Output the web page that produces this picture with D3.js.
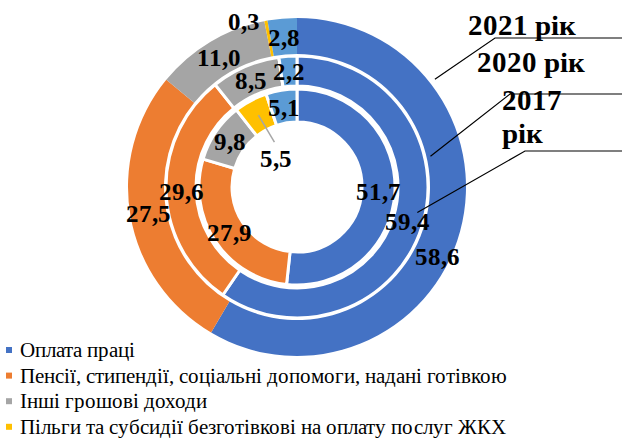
<!DOCTYPE html>
<html>
<head>
<meta charset="utf-8">
<script src="https://cdn.jsdelivr.net/npm/d3@7"></script>
<style>
  @font-face { font-family: "ChartSerif"; font-weight: normal; src: local("Liberation Serif"), local("LiberationSerif"), local("Times New Roman"); }
  @font-face { font-family: "ChartSerif"; font-weight: bold; src: local("Liberation Serif Bold"), local("LiberationSerif-Bold"), local("Times New Roman Bold"); }
</style>
</head>
<body style="margin:0">
<svg class="chart" width="622" height="441"></svg>
<script>
//* data
const categories = [
	"Оплата праці",
	"Пенсії, стипендії, соціальні допомоги, надані готівкою",
	"Інші грошові доходи",
	"Пільги та субсидії безготівкові на оплату послуг ЖКХ",
	"Інше"
];
const years = ["2017 рік", "2020 рік", "2021 рік"];
const values2017 = [51.7, 27.9, 9.8, 5.5, 5.1];
const values2020 = [59.4, 29.6, 8.5, 0, 2.2];
const values2021 = [58.6, 27.5, 11.0, 0.3, 2.8];
const colors = ["#4472C4", "#ED7D31", "#A5A5A5", "#FFC000", "#5B9BD5"];
const legendCount = 4;

const FONT = '"ChartSerif", "Liberation Serif", "Times New Roman", serif';
const svg = d3.select("svg");
const cx = 297, cy = 187;
const texts = [];

//* rings, inner to outer
const rings = [
	{ year: years[0], values: values2017, r0: 65, r1: 98, stroke: 3 },
	{ year: years[1], values: values2020, r0: 101, r1: 131, stroke: 3 },
	{ year: years[2], values: values2021, r0: 133, r1: 169, stroke: 0 }
];

// a few labels were moved by hand in the original
const labelNudge = {
	"2021 рік|0": [-5, 29],
	"2021 рік|3": [-25, -18],
	"2017 рік|3": [18, 43]
};
const leaderFor = { "2017 рік|3": true };

const pie = d3.pie().sort(null).value((d) => d);
const fmt = (v) => d3.format(".1f")(v).replace(".", ",");

const g = svg.append("g").attr("transform", `translate(${cx}, ${cy})`);

rings.forEach((ring) => {
	const arc = d3.arc().innerRadius(ring.r0).outerRadius(ring.r1);
	const arcs = pie(ring.values);

	g.append("g")
		.selectAll("path")
		.data(arcs)
		.enter()
		.append("path")
		.attr("d", arc)
		.attr("fill", (_, i) => colors[i])
		.attr("stroke", ring.stroke ? "#fff" : "none")
		.attr("stroke-width", ring.stroke);

	arcs.forEach((a, i) => {
		if (a.data === 0) return;
		const key = ring.year + "|" + i;
		const [x0, y0] = arc.centroid(a);
		const n = labelNudge[key] || [0, 0];
		const x = cx + x0 + n[0], y = cy + y0 + n[1];
		if (leaderFor[key]) {
			svg.append("line")
				.attr("x1", cx + x0).attr("y1", cy + y0)
				.attr("x2", x - 2).attr("y2", y - 16)
				.attr("stroke", "#a6a6a6")
				.attr("stroke-width", 1.5);
		}
		texts.push({ x, y: y + 9, t: fmt(a.data), size: 25, bold: true, anchor: "middle" });
	});
});

//* series name callouts
const callouts = [
	{ angle: 52, r: 175, elbow: [495, 38], lines: ["2021 рік"], tx: 468, ty: 35 },
	{ angle: 77, r: 137, elbow: [510, 94], lines: ["2020 рік"], tx: 477, ty: 72 },
	{ angle: 102, r: 123, elbow: [525, 151], lines: ["2017", "рік"], tx: 502, ty: 110 }
];

callouts.forEach((c) => {
	const a = (c.angle * Math.PI) / 180;
	const px = cx + c.r * Math.sin(a), py = cy - c.r * Math.cos(a);
	svg.append("path")
		.attr("d", `M${px},${py}L${c.elbow[0]},${c.elbow[1]}H640`)
		.attr("fill", "none")
		.attr("stroke", "#000")
		.attr("stroke-width", 1.2);
	c.lines.forEach((l, i) =>
		texts.push({ x: c.tx, y: c.ty + i * 33, t: l, size: 29, bold: true, anchor: "start" })
	);
});

//* legend
categories.slice(0, legendCount).forEach((d, i) => {
	const y = 350 + i * 25.6;
	svg.append("rect")
		.attr("x", 6)
		.attr("y", y - 3)
		.attr("width", 6)
		.attr("height", 6)
		.attr("fill", colors[i]);
	texts.push({ x: 20, y: y + 7, t: d, size: 20.5, bold: false, anchor: "start" });
});

//* all texts in one join
svg.selectAll("text")
	.data(texts)
	.enter()
	.append("text")
	.attr("x", (d) => d.x)
	.attr("y", (d) => d.y)
	.attr("text-anchor", (d) => d.anchor)
	.style("font-family", FONT)
	.style("font-size", (d) => d.size + "px")
	.style("font-weight", (d) => (d.bold ? "bold" : "normal"))
	.text((d) => d.t);
</script>
</body>
</html>
